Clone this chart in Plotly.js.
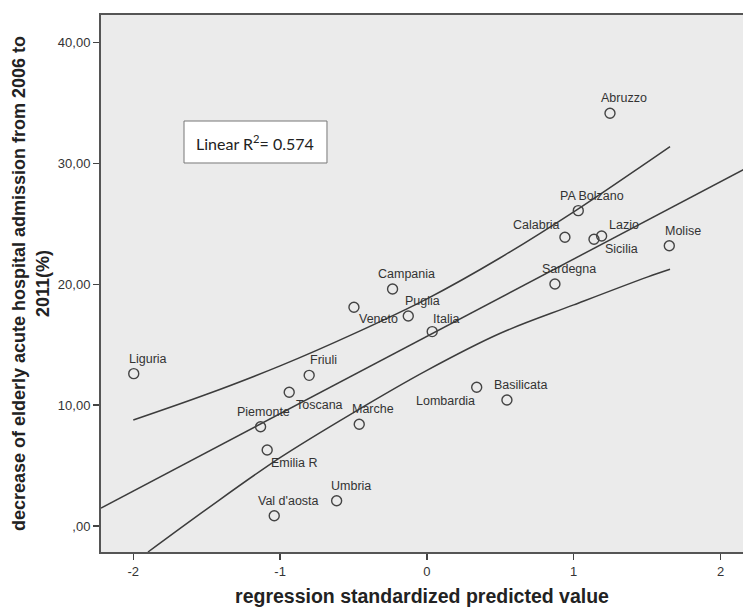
<!DOCTYPE html>
<html>
<head>
<meta charset="utf-8">
<script src="https://cdn.plot.ly/plotly-3.0.1.min.js"></script>
<style>
  html, body { margin: 0; padding: 0; background: #ffffff; }
  #chart { width: 743px; height: 609px; }
</style>
</head>
<body>
<div id="chart"></div>
<script>
// ---- data ----
const regions = ["Abruzzo", "PA Bolzano", "Calabria", "Lazio", "Sicilia", "Molise", "Sardegna",
  "Campania", "Puglia", "Veneto", "Italia", "Liguria", "Friuli", "Toscana", "Piemonte",
  "Marche", "Emilia R", "Lombardia", "Basilicata", "Umbria", "Val d'aosta"];
const predicted = [1.247, 1.031, 0.940, 1.190, 1.138, 1.651, 0.872,
  -0.234, -0.127, -0.497, 0.036, -1.997, -0.802, -0.938, -1.133,
  -0.461, -1.088, 0.339, 0.545, -0.615, -1.040];
const decrease = [34.16, 26.10, 23.90, 24.00, 23.73, 23.20, 20.03,
  19.62, 17.38, 18.10, 16.09, 12.61, 12.47, 11.07, 8.22,
  8.42, 6.29, 11.48, 10.43, 2.09, 0.85];

const fitX = [-2.22, 2.16];
const fitY = [1.49, 29.52];

const upperX = [-2.0, -1.5, -1.0, -0.5, 0.0, 0.5, 1.0, 1.5, 1.656];
const upperY = [8.77, 10.9, 13.25, 15.9, 18.8, 22.2, 26.0, 30.1, 31.4];
const lowerX = [-1.9, -1.5, -1.0, -0.5, 0.0, 0.5, 1.0, 1.5, 1.656];
const lowerY = [-2.15, 1.4, 5.66, 9.39, 12.88, 15.95, 18.3, 20.6, 21.25];

const yTickVals = [0, 10, 20, 30, 40];
const yTickText = [",00", "10,00", "20,00", "30,00", "40,00"];
const xTickVals = [-2, -1, 0, 1, 2];
const xTickText = ["-2", "-1", "0", "1", "2"];

// label offsets in pixels (layout only): [dx, dy] relative to the point, dy down
const labelOffsets = {
  "Calabria": [-28, -12], "Lazio": [22, -11], "Sicilia": [28, 10], "Veneto": [25, 12],
  "Toscana": [30, 13], "Piemonte": [3, -15], "Emilia R": [27, 13], "Lombardia": [-31, 14],
  "Italia": [14, -13]
};
const defaultOffset = [14, -15];

const sansFont = "Arial, 'Liberation Sans', sans-serif";
const lineColor = "#3c3c3c";
const textColor = "#333333";

const traces = [
  { x: upperX, y: upperY, mode: "lines", line: { color: lineColor, width: 1.5, shape: "spline" }, hoverinfo: "skip", showlegend: false },
  { x: lowerX, y: lowerY, mode: "lines", line: { color: lineColor, width: 1.5, shape: "spline" }, hoverinfo: "skip", showlegend: false },
  { x: fitX, y: fitY, mode: "lines", line: { color: lineColor, width: 1.5 }, hoverinfo: "skip", showlegend: false },
  { x: predicted, y: decrease, text: regions, mode: "markers",
    marker: { symbol: "circle-open", size: 10, color: "#444444", line: { width: 1.4, color: "#444444" } },
    showlegend: false }
];

const annotations = regions.map((r, i) => {
  const off = labelOffsets[r] || defaultOffset;
  return {
    x: predicted[i], y: decrease[i], xref: "x", yref: "y",
    text: r, showarrow: false, xanchor: "center", yanchor: "middle",
    xshift: off[0], yshift: -off[1],
    font: { family: sansFont, size: 12.5, color: textColor }
  };
});

annotations.push({
  x: 0.2405, y: 0.7635, xref: "paper", yref: "paper",
  text: "Linear R<sup>2</sup>= 0.574", showarrow: false,
  xanchor: "center", yanchor: "middle",
  font: { family: "Lato, 'Open Sans', sans-serif", size: 16, color: "#222222" }
});

const layout = {
  width: 743, height: 609,
  margin: { l: 101, r: 0, t: 15, b: 57, pad: 0 },
  paper_bgcolor: "#ffffff",
  plot_bgcolor: "#ebebeb",
  showlegend: false,
  xaxis: {
    range: [-2.22, 2.153],
    tickvals: xTickVals, ticktext: xTickText,
    ticks: "outside", ticklen: 6, tickwidth: 1.5, tickcolor: "#444",
    showgrid: false, zeroline: false,
    showline: true, linecolor: "#555555", linewidth: 2, mirror: true,
    tickfont: { family: sansFont, size: 13, color: textColor },
    title: { text: "regression standardized predicted value", standoff: 12,
      font: { family: sansFont, size: 19.5, color: "#222222", weight: "bold" } }
  },
  yaxis: {
    range: [-2.15, 42.29],
    tickvals: yTickVals, ticktext: yTickText,
    ticks: "outside", ticklen: 6, tickwidth: 1.5, tickcolor: "#444",
    showgrid: false, zeroline: false,
    showline: true, linecolor: "#555555", linewidth: 2, mirror: false,
    tickfont: { family: sansFont, size: 13, color: textColor },
    title: { text: "decrease of elderly acute hospital admission from 2006 to<br>2011(%)", standoff: 4,
      font: { family: sansFont, size: 18, color: "#222222", weight: "bold" } }
  },
  shapes: [{
    type: "rect", xref: "paper", yref: "paper",
    x0: 0.1293, x1: 0.352, y0: 0.7244, y1: 0.8026,
    fillcolor: "#ffffff", line: { color: "#777777", width: 1 }, layer: "below"
  }],
  annotations: annotations
};

Plotly.newPlot("chart", traces, layout, { displayModeBar: false, staticPlot: true });
</script>
</body>
</html>
